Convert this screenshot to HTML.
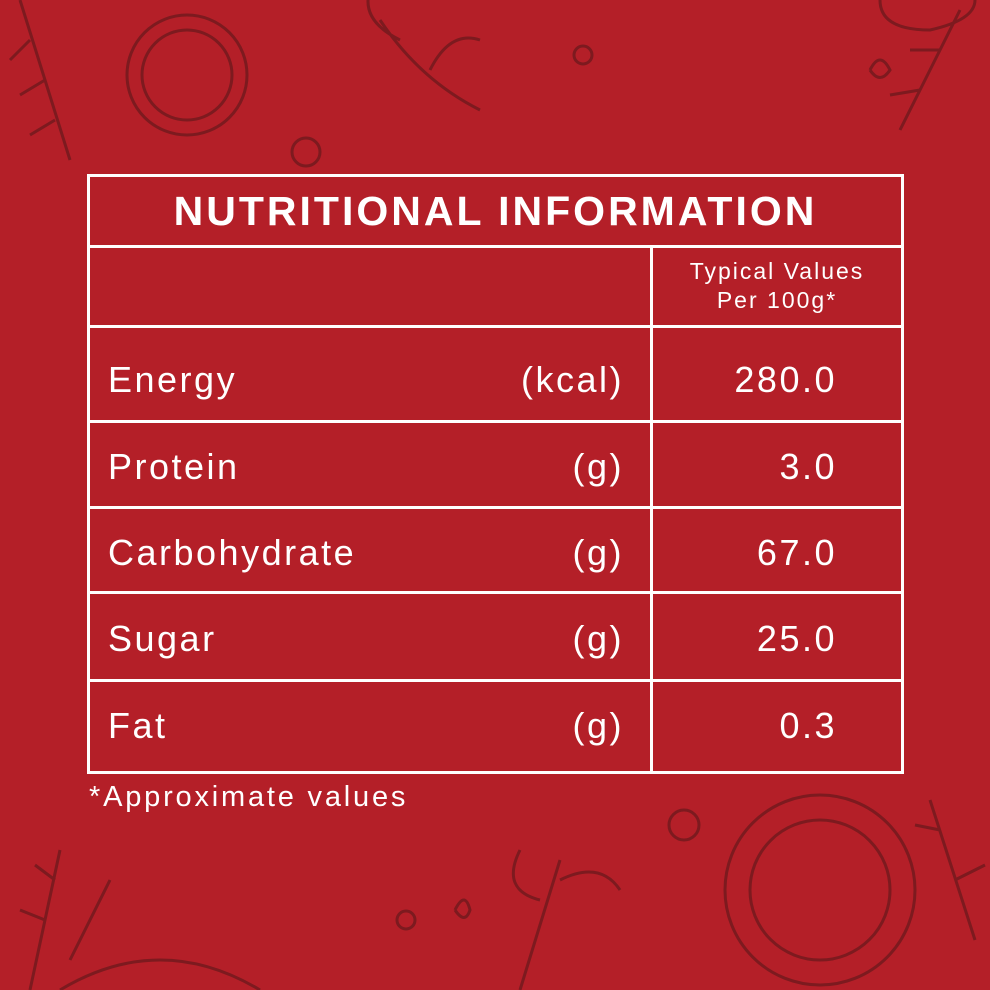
<!DOCTYPE html>
<html><head><meta charset="utf-8"><style>
html,body{margin:0;padding:0}
body{width:990px;height:990px;background:#b41f28;position:relative;overflow:hidden;font-family:"Liberation Sans",sans-serif;color:#fff}
svg.bg{position:absolute;left:0;top:0}
.h{position:absolute;background:#fff}
.t{position:absolute;white-space:nowrap;font-size:36px;line-height:1;letter-spacing:2.5px}
</style></head><body>
<svg class="bg" width="990" height="990" fill="none" stroke="#7d1a1f" stroke-width="3">
<circle cx="187" cy="75" r="60"/><circle cx="187" cy="75" r="45"/>
<circle cx="306" cy="152" r="14"/><circle cx="583" cy="55" r="9"/>
<circle cx="820" cy="890" r="95"/><circle cx="820" cy="890" r="70"/>
<circle cx="684" cy="825" r="15"/><circle cx="406" cy="920" r="9"/>
<path d="M880 0 Q880 30 930 30 Q975 20 975 0"/>
<path d="M20 0 L70 160 M30 40 l-20 20 M45 80 l-25 15 M55 120 l-25 15"/>
<path d="M960 10 L900 130 M940 50 l-30 0 M920 90 l-30 5"/>
<path d="M30 990 L60 850 M45 920 l-25 -10 M55 880 l-20 -15 M70 960 l40 -80"/>
<path d="M60 990 Q160 930 260 990"/>
<path d="M520 990 L560 860 M540 900 q-40 -10 -20 -50 M560 880 q40 -20 60 10"/>
<path d="M380 20 q40 60 100 90 M400 40 q-40 -20 -30 -50 M430 70 q20 -40 50 -30"/>
<path d="M930 800 L975 940 M940 830 l-25 -5 M955 880 l30 -15"/>
<path d="M870 70 q10 -20 20 0 q-10 15 -20 0"/>
<path d="M455 910 q10 -20 15 0 q-5 15 -15 0"/>
</svg>
<div class="h" style="left:87px;top:174px;width:817px;height:3px"></div>
<div class="h" style="left:87px;top:245px;width:817px;height:3px"></div>
<div class="h" style="left:87px;top:325px;width:817px;height:3px"></div>
<div class="h" style="left:87px;top:420px;width:817px;height:3px"></div>
<div class="h" style="left:87px;top:506px;width:817px;height:3px"></div>
<div class="h" style="left:87px;top:591px;width:817px;height:3px"></div>
<div class="h" style="left:87px;top:679px;width:817px;height:3px"></div>
<div class="h" style="left:87px;top:771px;width:817px;height:3px"></div>
<div class="h" style="left:87px;top:174px;width:3px;height:600px"></div>
<div class="h" style="left:901px;top:174px;width:3px;height:600px"></div>
<div class="h" style="left:650px;top:245px;width:3px;height:529px"></div>
<div class="t" style="left:88px;width:815px;text-align:center;top:191px;font-size:41px;font-weight:bold;letter-spacing:3px">NUTRITIONAL INFORMATION</div>
<div class="t" style="left:653px;width:248px;text-align:center;top:257px;font-size:23px;line-height:29px;letter-spacing:2px">Typical Values<br>Per 100g*</div>
<div class="t" style="left:108px;top:362px">Energy</div><div class="t" style="right:366px;top:362px">(kcal)</div><div class="t" style="right:153px;top:362px">280.0</div>
<div class="t" style="left:108px;top:449px">Protein</div><div class="t" style="right:366px;top:449px">(g)</div><div class="t" style="right:153px;top:449px">3.0</div>
<div class="t" style="left:108px;top:535px">Carbohydrate</div><div class="t" style="right:366px;top:535px">(g)</div><div class="t" style="right:153px;top:535px">67.0</div>
<div class="t" style="left:108px;top:621px">Sugar</div><div class="t" style="right:366px;top:621px">(g)</div><div class="t" style="right:153px;top:621px">25.0</div>
<div class="t" style="left:108px;top:708px">Fat</div><div class="t" style="right:366px;top:708px">(g)</div><div class="t" style="right:153px;top:708px">0.3</div>
<div class="t" style="left:89px;top:783px;font-size:29px;letter-spacing:2.8px">*Approximate values</div>
</body></html>
